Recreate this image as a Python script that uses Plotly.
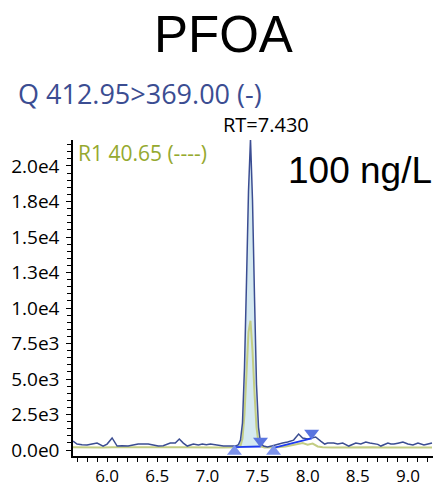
import plotly.graph_objects as go

# Quantifier trace Q 412.95>369.00 (retention time in min, intensity)
quant_time = [5.66, 5.70, 5.75, 5.80, 5.85, 5.90, 5.96, 6.00, 6.05, 6.10, 6.15, 6.21,
              6.26, 6.31, 6.36, 6.41, 6.46, 6.51, 6.56, 6.63, 6.68, 6.72, 6.76, 6.80,
              6.86, 6.91, 6.95, 6.99, 7.03, 7.08, 7.12, 7.16, 7.22, 7.28, 7.31, 7.33,
              7.35, 7.37, 7.39, 7.41, 7.43, 7.45, 7.47, 7.49, 7.51, 7.53, 7.56, 7.60,
              7.65, 7.70, 7.75, 7.80, 7.86, 7.91, 7.95, 8.00, 8.04, 8.08, 8.13, 8.17,
              8.20, 8.26, 8.30, 8.35, 8.41, 8.45, 8.48, 8.53, 8.58, 8.62, 8.66, 8.70,
              8.73, 8.77, 8.80, 8.83, 8.86, 8.90, 8.95, 9.00, 9.05, 9.10, 9.13, 9.16,
              9.20, 9.24]
quant_int = [630, 420, 380, 350, 420, 490, 280, 420, 850, 280, 300, 280,
             350, 420, 430, 420, 350, 280, 300, 490, 500, 775, 490, 280,
             420, 350, 420, 380, 420, 350, 330, 280, 290, 280, 380, 700,
             1900, 5800, 11800, 18200, 21900, 17600, 10800, 4600, 1600, 500, 280, 210,
             300, 420, 500, 560, 700, 1130, 850, 775, 850, 915, 630, 420,
             490, 490, 420, 490, 280, 420, 490, 420, 560, 490, 420, 400,
             280, 420, 490, 420, 420, 480, 560, 420, 350, 490, 420, 350,
             420, 490]

# Qualifier trace R1
qual_time = [5.66, 5.75, 5.85, 5.95, 6.05, 6.15, 6.25, 6.35, 6.45, 6.55, 6.65, 6.75,
             6.85, 6.95, 7.05, 7.15, 7.25, 7.31, 7.33, 7.35, 7.37, 7.39, 7.41, 7.43,
             7.45, 7.47, 7.49, 7.51, 7.53, 7.57, 7.62, 7.70, 7.78, 7.85, 7.90, 7.95,
             8.00, 8.05, 8.10, 8.15, 8.25, 8.35, 8.45, 8.55, 8.65, 8.75, 8.85, 8.95,
             9.05, 9.15, 9.24]
qual_int = [200, 180, 190, 170, 200, 180, 190, 200, 180, 170, 190, 200,
            180, 190, 170, 180, 190, 200, 300, 800, 2500, 5200, 8300, 9100,
            7000, 4000, 1600, 500, 250, 180, 170, 190, 250, 350, 420, 500,
            380, 450, 250, 200, 180, 190, 170, 180, 200, 170, 190, 180,
            170, 190, 180]

# Integration events: peak start/end and baseline levels
peak1_start, peak1_end = 7.27, 7.53
peak1_base = [200, 250]
peak2_start, peak2_end = 7.66, 8.04
peak2_base = [150, 820]
apex_rt = 7.43
apex_int = 21900

y_ticks = [0, 2500, 5000, 7500, 10000, 12500, 15000, 17500, 20000]
y_labels = ["0.0e0", "2.5e3", "5.0e3", "7.5e3", "1.0e4", "1.3e4", "1.5e4", "1.8e4", "2.0e4"]
x_ticks = [6.0, 6.5, 7.0, 7.5, 8.0, 8.5, 9.0]
x_labels = ["6.0", "6.5", "7.0", "7.5", "8.0", "8.5", "9.0"]

NAVY = "#3b4d92"
OLIVE = "#95a92f"
UI_FONT = "Open Sans"

fig = go.Figure()

# Shaded integrated area of the main peak
fill_x = [peak1_start] + [t for t in quant_time if peak1_start < t < peak1_end] + [peak1_end]
fill_y = [peak1_base[0]] + [v for t, v in zip(quant_time, quant_int) if peak1_start < t < peak1_end] + [peak1_base[1]]
fig.add_trace(go.Scatter(x=fill_x + [peak1_end, peak1_start], y=fill_y + [peak1_base[1], peak1_base[0]],
                         fill="toself", fillcolor="#d5e9f1", line=dict(width=0),
                         mode="lines", hoverinfo="skip"))

fig.add_trace(go.Scatter(x=qual_time, y=qual_int, mode="lines",
                         line=dict(color="#c3cd84", width=2)))
fig.add_trace(go.Scatter(x=quant_time, y=quant_int, mode="lines",
                         line=dict(color=NAVY, width=1.5)))

# Integration baselines
for xs, ys in [([peak1_start, peak1_end], peak1_base), ([peak2_start, peak2_end], peak2_base)]:
    fig.add_trace(go.Scatter(x=xs, y=ys, mode="lines", line=dict(color="#1f3cf0", width=1.8)))

# Peak start / end markers
fig.add_trace(go.Scatter(x=[peak1_start, peak2_start], y=[-100, -100], mode="markers",
                         marker=dict(symbol="triangle-up", size=13, color="#7d93ec"),
                         cliponaxis=False))
fig.add_trace(go.Scatter(x=[peak1_end, peak2_end], y=[peak1_base[1] + 380, peak2_base[1] + 380],
                         mode="markers",
                         marker=dict(symbol="triangle-down", size=13, color="#5a75e0"),
                         cliponaxis=False))
# Apex marker
fig.add_trace(go.Scatter(x=[apex_rt], y=[apex_int + 450], mode="markers",
                         marker=dict(symbol="triangle-down", size=11, color="#1f2a66"),
                         cliponaxis=False))

L, T, W, H = 73, 140, 360, 316


def px(xp):
    return (xp - L) / W


def py(yp):
    return (T + H - yp) / H


annotations = [
    dict(text="PFOA", x=px(223), y=py(34), font=dict(family="Liberation Sans", size=51, color="black"),
         xanchor="center", yanchor="middle"),
    dict(text="Q 412.95&gt;369.00 (-)", x=px(16), y=py(94),
         font=dict(family=UI_FONT, size=27, color=NAVY), xanchor="left", yanchor="middle"),
    dict(text="RT=7.430", x=px(266), y=py(125), font=dict(family=UI_FONT, size=20, color="black"),
         xanchor="center", yanchor="middle"),
    dict(text="R1 40.65 (----)", x=px(76), y=py(153), font=dict(family=UI_FONT, size=21, color=OLIVE),
         xanchor="left", yanchor="middle"),
    dict(text="100 ng/L", x=px(286), y=py(170), font=dict(family="Liberation Sans", size=37, color="black"),
         xanchor="left", yanchor="middle"),
]
for a in annotations:
    a.update(xref="paper", yref="paper", showarrow=False)

fig.update_layout(
    width=433, height=486,
    margin=dict(l=L, r=433 - L - W, t=T, b=486 - T - H),
    paper_bgcolor="white", plot_bgcolor="white",
    showlegend=False,
    annotations=annotations,
    font=dict(family=UI_FONT, size=19, color="black"),
)
fig.update_xaxes(range=[5.66, 9.25], showgrid=False, zeroline=False, automargin=False,
                 showline=True, linecolor="black", linewidth=1.5,
                 tickmode="array", tickvals=x_ticks, ticktext=x_labels,
                 ticks="outside", ticklen=4, tickcolor="black", tickwidth=1.2,
                 minor=dict(dtick=0.1, tick0=0, ticks="outside", ticklen=4, tickcolor="black", tickwidth=1.2),
                 tickfont=dict(family=UI_FONT, size=17, color="black"))
fig.update_yaxes(range=[-420, 21830], showgrid=False, zeroline=False, automargin=False,
                 showline=True, linecolor="black", linewidth=1.5,
                 tickmode="array", tickvals=y_ticks, ticktext=y_labels,
                 ticks="outside", ticklen=5, tickcolor="black", tickwidth=1.2,
                 ticklabelstandoff=3,
                 minor=dict(dtick=500, tick0=0, ticks="outside", ticklen=4, tickcolor="black", tickwidth=1.2),
                 tickfont=dict(family=UI_FONT, size=19, color="black"))

fig.write_html("out.html")
